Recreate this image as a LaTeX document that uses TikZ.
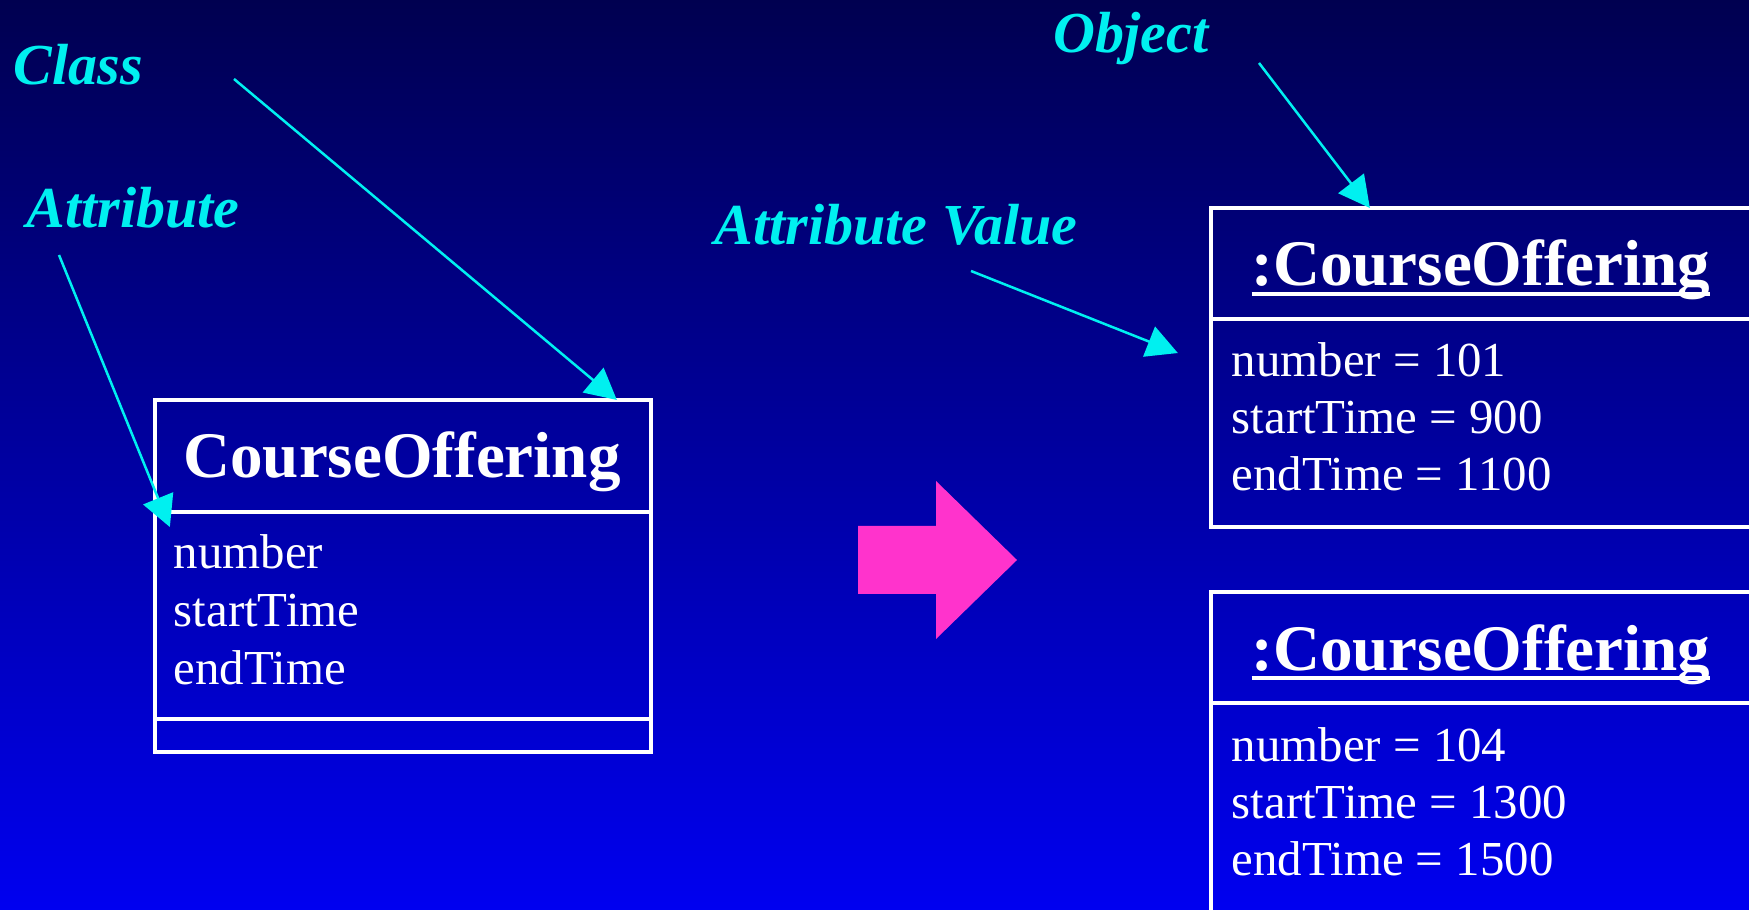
\documentclass[tikz,border=0pt]{standalone}
\usepackage{fontspec}
\setmainfont{Liberation Serif}
\usepackage{xcolor}
\usepackage{tikz}
\usetikzlibrary{arrows.meta, calc, positioning}
\definecolor{bgtop}{RGB}{0,0,80}
\definecolor{bgbottom}{RGB}{0,0,240}
\definecolor{notecyan}{RGB}{0,240,240}
\definecolor{arrowpink}{RGB}{255,51,204}
\tikzstyle{umlbox} = [rectangle, draw=white, line width=0.04cm, inner sep=0pt, outer sep=0pt, minimum width=4.96cm]
\tikzstyle{objbox} = [umlbox, minimum width=5.41cm]
\tikzstyle{headtext} = [text=white, inner sep=0pt, anchor=base, font=\fontsize{18.5}{22}\selectfont\bfseries]
\tikzstyle{attrtext} = [text=white, inner sep=0pt, anchor=base west, font=\fontsize{13.9}{16}\selectfont]
\tikzstyle{notelabel} = [text=notecyan, inner sep=0pt, anchor=base west, font=\fontsize{16.5}{20}\selectfont\bfseries\itshape]
\tikzstyle{pointer} = [notecyan, line width=0.025cm, -{Triangle[length=0.31cm,width=0.32cm]}]
\newcommand{\objname}[1]{\sbox0{#1}\rlap{\rule[-0.15em]{\wd0}{0.06em}}\usebox0}

\begin{document}
\begin{tikzpicture}[x=0.01cm, y=-0.01cm]
\useasboundingbox (0,0) rectangle (1749,910);
\clip (0,0) rectangle (1749,910);
\shade[top color=bgtop, bottom color=bgbottom] (0,0) rectangle (1749,910);

% class
\node[umlbox, minimum height=1.12cm] (classname) at (403,456) {};
\node[umlbox, minimum height=2.07cm, below=0pt of classname] (classattrs) {};
\node[umlbox, minimum height=0.33cm, below=0pt of classattrs] (classops) {};
\node[headtext] (classtitle) at (402,478) {CourseOffering};
\foreach \attr [count=\i] in {number, startTime, endTime}
  \node[attrtext] (classattr\i) at (173, {569+57.5*(\i-1)}) {\attr};

% objects
\node[objbox, minimum height=1.11cm] (obj1name) at (1481.5,263.5) {};
\node[objbox, minimum height=2.08cm, below=0pt of obj1name] (obj1attrs) {};
\node[headtext] (obj1title) at (1481,286) {\objname{:CourseOffering}};
\foreach \attr [count=\i] in {number = 101, startTime = 900, endTime = 1100}
  \node[attrtext] (obj1attr\i) at (1231, {377+57*(\i-1)}) {\attr};

\node[objbox, minimum height=1.11cm] (obj2name) at (1481.5,647.5) {};
\node[objbox, minimum height=2.20cm, below=0pt of obj2name] (obj2attrs) {};
\node[headtext] (obj2title) at (1481,670) {\objname{:CourseOffering}};
\foreach \attr [count=\i] in {number = 104, startTime = 1300, endTime = 1500}
  \node[attrtext] (obj2attr\i) at (1231, {761+57*(\i-1)}) {\attr};

% instantiation arrow
\fill[arrowpink] (858,526) -- (936,526) -- (936,481) -- (1017,560)
  -- (936,639) -- (936,594) -- (858,594) -- cycle;

% notes
\node[notelabel] (classnote) at (13,85) {Class};
\node[notelabel] (attrnote) at (26,228) {Attribute};
\node[notelabel] (valuenote) at (714,245) {Attribute Value};
\node[notelabel] (objectnote) at (1053,53) {Object};

\coordinate (classtail) at (234,79);
\coordinate (attrtail) at (59,255);
\coordinate (valuetail) at (971,271);
\coordinate (objecttail) at (1259,63);

\draw[pointer] (classtail) -- ($(classname.north west)+(462,0)$);
\draw[pointer] (attrtail) -- ($(classattrs.north west)+(15,15)$);
\draw[pointer] (valuetail) -- ($(obj1attrs.north west)+(-33,34)$);
\draw[pointer] (objecttail) -- ($(obj1name.north west)+(159,0)$);
\end{tikzpicture}
\end{document}
